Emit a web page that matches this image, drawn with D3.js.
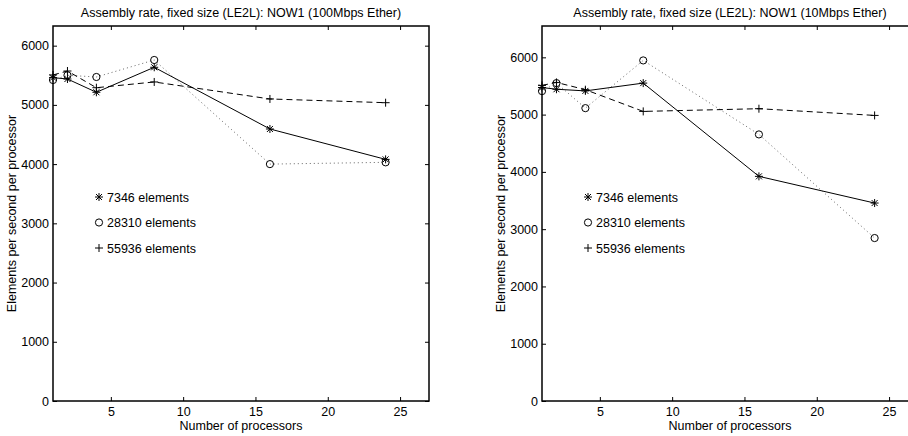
<!DOCTYPE html>
<html>
<head>
<meta charset="utf-8">
<script src="https://cdn.jsdelivr.net/npm/d3@7"></script>
<style>
  body { margin: 0; background: #fff; }
  svg { display: block; font-family: "Liberation Sans", Arial, sans-serif; }
</style>
</head>
<body>
<svg id="chart" width="908" height="436"></svg>
<script>
const processors = [1, 2, 4, 8, 16, 24];
const seriesNames = ["7346 elements", "28310 elements", "55936 elements"];
const markers = ["star", "circle", "plus"];
const dashes = [null, "1,3", "6,4"];

// 100Mbps Ether
const fast7346 = [5460, 5437, 5213, 5635, 4593, 4080];
const fast28310 = [5420, 5500, 5471, 5758, 4000, 4030];
const fast55936 = [5505, 5572, 5290, 5387, 5100, 5037];

// 10Mbps Ether
const slow7346 = [5473, 5443, 5414, 5550, 3922, 3456];
const slow28310 = [5410, 5550, 5113, 5946, 4654, 2845];
const slow55936 = [5510, 5562, 5435, 5056, 5103, 4986];

const xTicks = [5, 10, 15, 20, 25];
const yTicks = [0, 1000, 2000, 3000, 4000, 5000, 6000];

const panels = [
  { title: "Assembly rate, fixed size (LE2L): NOW1 (100Mbps Ether)", left: 53, yMax: 6332,
    series: [fast7346, fast28310, fast55936] },
  { title: "Assembly rate, fixed size (LE2L): NOW1 (10Mbps Ether)", left: 542, yMax: 6547,
    series: [slow7346, slow28310, slow55936] }
];

const svg = d3.select("#chart");
const plotTop = 26, plotBottom = 401, plotWidth = 376;
const fontSize = 12.5;

function drawMarker(g, type, x, y) {
  if (type === "circle") {
    g.append("circle").attr("cx", x).attr("cy", y).attr("r", 3.6)
      .attr("fill", "none").attr("stroke", "#000").attr("stroke-width", 1);
  } else {
    const s = 4;
    const p = d3.path();
    p.moveTo(x - s, y); p.lineTo(x + s, y);
    p.moveTo(x, y - s); p.lineTo(x, y + s);
    if (type === "star") {
      p.moveTo(x - 3, y - 3); p.lineTo(x + 3, y + 3);
      p.moveTo(x - 3, y + 3); p.lineTo(x + 3, y - 3);
    }
    g.append("path").attr("d", p.toString()).attr("stroke", "#000").attr("stroke-width", 1);
  }
}

panels.forEach((panel) => {
  const x = d3.scaleLinear().domain([1, 27]).range([panel.left, panel.left + plotWidth]);
  const y = d3.scaleLinear().domain([0, panel.yMax]).range([plotBottom, plotTop]);
  const g = svg.append("g");

  // axes with inward ticks on all sides
  g.append("g").attr("transform", `translate(0,${plotBottom})`)
    .call(d3.axisBottom(x).tickValues(xTicks).tickSizeInner(-4).tickSizeOuter(0).tickPadding(6))
    .call((a) => a.select(".domain").remove());
  g.append("g").attr("transform", `translate(0,${plotTop})`)
    .call(d3.axisTop(x).tickValues(xTicks).tickSizeInner(-4).tickSizeOuter(0).tickFormat(""))
    .call((a) => a.select(".domain").remove());
  g.append("g").attr("transform", `translate(${panel.left},0)`)
    .call(d3.axisLeft(y).tickValues(yTicks).tickSizeInner(-4).tickSizeOuter(0).tickPadding(4).tickFormat(d3.format("d")))
    .call((a) => a.select(".domain").remove());
  g.append("g").attr("transform", `translate(${panel.left + plotWidth},0)`)
    .call(d3.axisRight(y).tickValues(yTicks).tickSizeInner(-4).tickSizeOuter(0).tickFormat(""))
    .call((a) => a.select(".domain").remove());
  g.selectAll(".tick text").attr("font-size", fontSize).attr("font-family", "Liberation Sans, Arial, sans-serif").attr("fill", "#000");
  g.selectAll(".tick line").attr("stroke", "#000");

  g.append("rect").attr("x", panel.left).attr("y", plotTop).attr("width", plotWidth).attr("height", plotBottom - plotTop)
    .attr("fill", "none").attr("stroke", "#000").attr("stroke-width", 1.5);

  const line = d3.line().x((d, i) => x(processors[i])).y((d) => y(d));
  panel.series.forEach((vals, k) => {
    g.append("path").attr("d", line(vals)).attr("fill", "none")
      .attr("stroke", k === 1 ? "#555" : "#000").attr("stroke-width", k === 1 ? 0.9 : 1)
      .attr("stroke-dasharray", dashes[k]);
    vals.forEach((v, i) => drawMarker(g, markers[k], x(processors[i]), y(v)));
  });

  // legend
  seriesNames.forEach((name, k) => {
    const ly = 197 + k * 25.5;
    drawMarker(g, markers[k], panel.left + 46, ly);
    g.append("text").attr("x", panel.left + 54).attr("y", ly + 4.5).attr("font-size", fontSize).text(name);
  });

  g.append("text").attr("x", panel.left + plotWidth / 2).attr("y", 17).attr("text-anchor", "middle")
    .attr("font-size", fontSize).text(panel.title);
  g.append("text").attr("x", panel.left + plotWidth / 2).attr("y", 430).attr("text-anchor", "middle")
    .attr("font-size", fontSize).text("Number of processors");
  g.append("text").attr("transform", `translate(${panel.left - 37},${(plotTop + plotBottom) / 2}) rotate(-90)`)
    .attr("text-anchor", "middle").attr("font-size", fontSize).text("Elements per second per processor");
});
</script>
</body>
</html>
